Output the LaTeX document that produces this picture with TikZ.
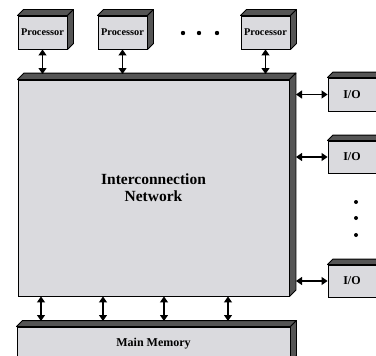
\documentclass[tikz,border=0pt]{standalone}
\usepackage{fontspec}
\setmainfont{Liberation Serif}
\usetikzlibrary{arrows.meta}
\definecolor{face}{HTML}{DADADE}
\definecolor{side}{HTML}{555555}
\tikzset{
 front/.style={draw=black, fill=face, line width=0.9pt, inner sep=0pt, font=\bfseries},
 sidestyle/.style={draw=black, fill=side, line width=0.9pt, line join=round},
 link/.style={{Triangle[length=6pt,width=8pt]}-{Triangle[length=6pt,width=8pt]}, line width=1.2pt},
 dotmark/.style={fill=black, circle, inner sep=0pt, minimum size=4.4pt}
}
\newcommand\depthbox[2]{%
 \filldraw[sidestyle] (#1.north west) -- ([shift={(#2,-#2)}]#1.north west) -- ([shift={(#2,-#2)}]#1.north east) -- (#1.north east) -- cycle;
 \filldraw[sidestyle] (#1.north east) -- ([shift={(#2,-#2)}]#1.north east) -- ([shift={(#2,-#2)}]#1.south east) -- (#1.south east) -- cycle;
}
\begin{document}
\begin{tikzpicture}[x=1pt,y=-1pt]
\useasboundingbox (0,0) rectangle (376,356);
\clip (0,0) rectangle (376,356);
\fill[white] (0,0) rectangle (376,356);
% processors
\node[front, minimum width=49pt, minimum height=33pt, font=\bfseries\fontsize{10.3}{12}\selectfont] (p1) at (42.5,32.5) {Processor};
\node[front, minimum width=49pt, minimum height=33pt, font=\bfseries\fontsize{10.3}{12}\selectfont] (p2) at (122.5,32.5) {Processor};
\node[front, minimum width=49pt, minimum height=33pt, font=\bfseries\fontsize{10.3}{12}\selectfont] (p3) at (265.5,32.5) {Processor};
\depthbox{p1}{6}
\depthbox{p2}{6}
\depthbox{p3}{6}
\node[dotmark] (d1) at (183,33) {};
\node[dotmark] (d2) at (199,33) {};
\node[dotmark] (d3) at (217,33) {};
% network
\node[front, minimum width=271pt, minimum height=216pt, align=center, font=\bfseries\fontsize{15.5}{17}\selectfont] (net) at (153.5,188) {Interconnection\\Network};
\depthbox{net}{6.5}
% memory
\node[front, minimum width=273pt, minimum height=34pt, font=\bfseries\fontsize{12}{13}\selectfont] (mem) at (153.5,344) {Main Memory};
\depthbox{mem}{6}
% I/O
\node[front, minimum width=48pt, minimum height=33pt, font=\bfseries\fontsize{12}{13}\selectfont] (io1) at (352,94.5) {I/O};
\node[front, minimum width=48pt, minimum height=32pt, font=\bfseries\fontsize{12}{13}\selectfont] (io2) at (352,157) {I/O};
\node[front, minimum width=48pt, minimum height=32pt, font=\bfseries\fontsize{12}{13}\selectfont] (io3) at (352,281) {I/O};
\depthbox{io1}{5.5}
\depthbox{io2}{5.5}
\depthbox{io3}{5.5}
\node[dotmark, minimum size=4pt] (v1) at (356,202) {};
\node[dotmark, minimum size=4pt] (v2) at (356,218) {};
\node[dotmark, minimum size=4pt] (v3) at (356,235) {};
% connectors
\coordinate (nettop) at (0,74);
\coordinate (memtop) at (0,321);
\coordinate (netR) at (296,0);
\draw[link] (p1.south) -- (p1.south |- nettop);
\draw[link] (p2.south) -- (p2.south |- nettop);
\draw[link] (p3.south) -- (p3.south |- nettop);
\coordinate (ma1) at (41,0);
\coordinate (ma2) at (103,0);
\coordinate (ma3) at (164,0);
\coordinate (ma4) at (228,0);
\draw[link] (ma1 |- net.south) -- (ma1 |- memtop);
\draw[link] (ma2 |- net.south) -- (ma2 |- memtop);
\draw[link] (ma3 |- net.south) -- (ma3 |- memtop);
\draw[link] (ma4 |- net.south) -- (ma4 |- memtop);
\draw[link] (netR |- io1.west) -- (io1.west);
\draw[link] (netR |- io2.west) -- (io2.west);
\draw[link] (netR |- io3.west) -- (io3.west);
\end{tikzpicture}
\end{document}
